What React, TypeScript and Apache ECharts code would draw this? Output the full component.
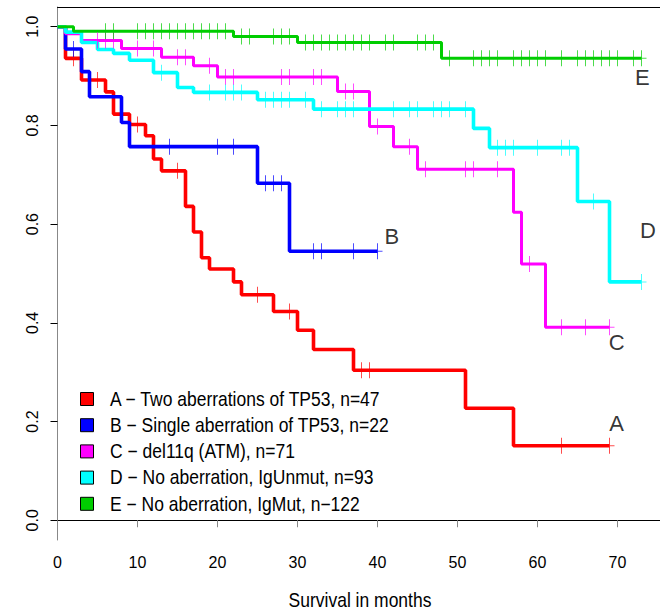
import React, { useEffect, useRef } from "react";
import * as echarts from "echarts";

// ---- data ----
const groupNames = [
  "A \u2212 Two aberrations of TP53, n=47",
  "B \u2212 Single aberration of TP53, n=22",
  "C \u2212 del11q (ATM), n=71",
  "D \u2212 No aberration, IgUnmut, n=93",
  "E \u2212 No aberration, IgMut, n\u2212122",
];
const groupLetters = ["A", "B", "C", "D", "E"];

const timesA = [0, 1, 3, 6, 7, 9, 11, 12, 13, 16, 17, 18, 19, 22, 23, 27, 30, 32, 37, 51, 57, 69];
const survA = [1, 0.936, 0.892, 0.868, 0.823, 0.802, 0.779, 0.732, 0.708, 0.636, 0.584, 0.532, 0.509, 0.483, 0.457, 0.423, 0.385, 0.346, 0.304, 0.227, 0.151, 0.151];
const censorA = [2, 5, 10, 15, 25, 29, 38, 39, 63, 69];

const timesB = [0, 1, 3, 4, 8, 9, 25, 29, 40];
const survB = [1, 0.955, 0.909, 0.858, 0.806, 0.757, 0.683, 0.545, 0.545];
const censorB = [2, 14, 20, 22, 26, 27, 28, 32, 33, 37, 40];

const timesC = [0, 1, 3, 8, 13, 17, 20, 35, 39, 42, 45, 57, 58, 61, 69];
const survC = [1, 0.986, 0.972, 0.956, 0.938, 0.921, 0.898, 0.869, 0.798, 0.757, 0.711, 0.624, 0.519, 0.391, 0.391];
const censorC = [5, 6, 7, 10, 12, 15, 16, 19, 21, 22, 28, 29, 32, 33, 36, 37, 40, 44, 46, 51, 52, 55, 59, 63, 66, 69];

const timesD = [0, 1, 3, 5, 7, 9, 12, 15, 17, 25, 32, 52, 54, 65, 69, 73];
const survD = [1, 0.989, 0.968, 0.954, 0.946, 0.932, 0.907, 0.877, 0.867, 0.852, 0.833, 0.794, 0.755, 0.646, 0.483, 0.483];
const censorD = [13, 19, 21, 22, 23, 26, 27, 28, 29, 31, 33, 35, 36, 37, 42, 44, 45, 47, 48, 49, 51, 55, 56, 57, 60, 63, 64, 67, 73];

const timesE = [0, 2, 22, 30, 48, 73];
const survE = [1, 0.991, 0.98, 0.968, 0.936, 0.936];
const censorE = [6, 7, 10, 11, 12, 13, 14, 15, 16, 17, 18, 19, 20, 21, 23, 24, 27, 28, 29, 31, 32, 33, 34, 35, 36, 37, 38, 39, 41, 42, 45, 46, 47, 49, 52, 53, 54, 55, 57, 58, 59, 60, 61, 63, 65, 66, 67, 68, 69, 70, 72, 73];

const xTicks = [0, 10, 20, 30, 40, 50, 60, 70];
const yTicks = [0, 0.2, 0.4, 0.6, 0.8, 1.0];

// annotation anchor points (data coordinates) for the curve letters
const letterX = [69.9, 41.8, 69.9, 73.8, 73.1];
const letterY = [0.196, 0.574, 0.36, 0.588, 0.898];

const colors = ["#FF0000", "#0000FF", "#FF00FF", "#00FFFF", "#00CD00"];
const widths = [3.6, 3.6, 3, 3.6, 3];

const FONT = "'Liberation Sans', Arial, sans-serif";

const groups = [
  { t: timesA, s: survA, c: censorA },
  { t: timesB, s: survB, c: censorB },
  { t: timesC, s: survC, c: censorC },
  { t: timesD, s: survD, c: censorD },
  { t: timesE, s: survE, c: censorE },
];

function survAt(t: number[], s: number[], x: number): number {
  let v = s[0];
  for (let i = 0; i < t.length; i++) {
    if (t[i] <= x) v = s[i];
  }
  return v;
}

const plusSymbol = "path://M4.5,0h1v16h-1zM0,7.5h10v1h-10z";

export default function App() {
  const ref = useRef<HTMLDivElement>(null);
  useEffect(() => {
    if (!ref.current) return;
    const chart = echarts.init(ref.current, null, { renderer: "svg" });
    const series: any[] = [];
    groups.forEach((g, i) => {
      series.push({
        name: groupNames[i],
        type: "line",
        step: "end",
        showSymbol: false,
        data: g.t.map((t, k) => [t, g.s[k]]),
        lineStyle: { color: colors[i], width: widths[i] },
        itemStyle: { color: colors[i] },
        z: 3 + i,
        silent: true,
      });
    });
    groups.forEach((g, i) => {
      series.push({
        name: "censor " + groupLetters[i],
        type: "scatter",
        symbol: plusSymbol,
        symbolSize: [10, 16],
        data: g.c.map((t) => [t, survAt(g.t, g.s, t)]),
        itemStyle: { color: colors[i], opacity: 0.7 },
        z: 9,
        silent: true,
      });
    });
    series.push({
      type: "scatter",
      symbolSize: 0.001,
      data: groupLetters.map((l, i) => ({ value: [letterX[i], letterY[i]], name: l })),
      label: {
        show: true,
        position: "inside",
        formatter: (p: any) => p.name,
        fontSize: 22,
        color: "#000",
        fontFamily: FONT,
      },
      silent: true,
      z: 10,
    });

    const legendTop = 399;
    const legendStep = 26.2;
    const graphic: any[] = [];
    groupNames.forEach((n, i) => {
      const cy = legendTop + i * legendStep;
      graphic.push({
        type: "rect",
        shape: { x: 80.5, y: cy - 6.5, width: 13, height: 13 },
        style: { fill: colors[i], stroke: "#000", lineWidth: 1 },
        z: 20,
      });
      graphic.push({
        type: "text",
        x: 110,
        y: cy,
        scaleY: 1.12,
        style: {
          text: n,
          fontSize: 17.5,
          fontFamily: FONT,
          fill: "#000",
          verticalAlign: "middle",
          align: "left",
        },
        z: 20,
      });
    });
    graphic.push({
      type: "text",
      x: 360,
      y: 600,
      scaleY: 1.12,
      style: {
        text: "Survival in months",
        fontSize: 17.5,
        fontFamily: FONT,
        fill: "#000",
        align: "center",
        verticalAlign: "middle",
      },
    });

    chart.setOption({
      animation: false,
      backgroundColor: "#fff",
      grid: {
        left: 57.5,
        top: 7,
        right: -10,
        bottom: 70,
        outerBoundsMode: "none",
        containLabel: false,
      },
      xAxis: [
        {
          type: "value",
          min: 0,
          max: 76.5625,
          splitLine: { show: false },
          axisLine: { show: true, lineStyle: { color: "#000", width: 1 } },
          axisTick: { show: true, customValues: xTicks, length: 7, lineStyle: { color: "#888" } },
          axisLabel: {
            customValues: xTicks,
            fontSize: 16,
            fontFamily: FONT,
            color: "#000",
            margin: 14,
          },
        },
        {
          type: "value",
          position: "top",
          min: 0,
          max: 76.5625,
          splitLine: { show: false },
          axisLine: { show: true, onZero: false, lineStyle: { color: "#000", width: 1 } },
          axisTick: { show: false },
          axisLabel: { show: false },
        },
      ],
      yAxis: {
        type: "value",
        min: -0.04,
        max: 1.04,
        splitLine: { show: false },
        axisLine: { show: true, lineStyle: { color: "#888", width: 1 } },
        axisTick: { show: true, customValues: yTicks, length: 7, lineStyle: { color: "#000" } },
        axisLabel: {
          customValues: yTicks,
          rotate: 90,
          formatter: (v: number) => v.toFixed(1),
          fontSize: 16,
          fontFamily: FONT,
          color: "#000",
          margin: 17,
        },
      },
      series,
      graphic,
    });
    return () => chart.dispose();
  }, []);
  return (
    <div
      ref={ref}
      style={{ position: "fixed", left: 0, top: 0, width: 660, height: 610, background: "#fff" }}
    />
  );
}
